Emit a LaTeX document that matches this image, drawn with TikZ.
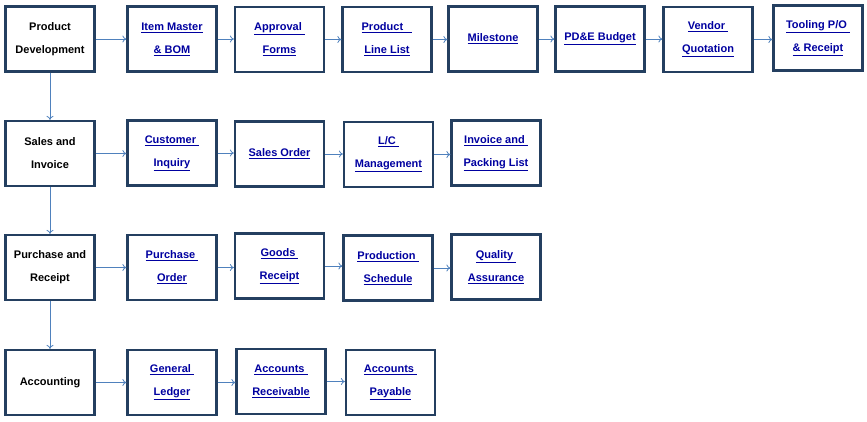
\documentclass[tikz,border=0pt]{standalone}
\usepackage{fontspec}
\setmainfont{Liberation Sans}
\usetikzlibrary{arrows.meta}
\definecolor{frame}{RGB}{36,63,96}
\definecolor{arrowblue}{RGB}{79,129,189}
\definecolor{linkblue}{RGB}{0,0,160}
\newcommand{\lk}[1]{\underline{#1}}
\tikzset{
  box/.style={draw=frame, line width=2.2pt, fill=white, minimum width=89pt, minimum height=65pt,
    inner sep=0pt, align=center, font=\fontsize{11}{23}\selectfont\bfseries},
  head/.style={box, text=black},
  link/.style={box, text=linkblue},
  conn/.style={draw=arrowblue, line width=0.8pt, -{To[length=4pt,width=7pt]}}
}
\begin{document}
\begin{tikzpicture}[x=1pt,y=-1pt]
\useasboundingbox (0,0) rectangle (867,421);
% row 1
\node[head] (pd) at (50,39) {Product\\Development};
\node[link] (im) at (172,39) {\lk{Item Master}\\\lk{\& BOM}};
\node[link] (af) at (279.5,39.5) {\lk{Approval\ }\\\lk{Forms}};
\node[link] (pl) at (387,39.5) {\lk{Product\ \ \ }\\\lk{Line List}};
\node[link] (ms) at (493,39) {\lk{Milestone}};
\node[link] (bu) at (600,39) {\lk{PD\&E Budget}};
\node[link] (vq) at (708,39.5) {\lk{Vendor\ }\\\lk{Quotation}};
\node[link] (tp) at (818,38) {\lk{Tooling P/O\ }\\\lk{\& Receipt}};
% row 2
\node[head] (si) at (50,153.5) {Sales and\\Invoice};
\node[link] (ci) at (172,153) {\lk{Customer\ }\\\lk{Inquiry}};
\node[link] (so) at (279.5,154) {\lk{Sales Order}};
\node[link] (lc) at (388.5,154.5) {\lk{L/C\ }\\\lk{Management}};
\node[link] (ip) at (496,153) {\lk{Invoice and\ }\\\lk{Packing List}};
% row 3
\node[head] (pr) at (50,267.5) {Purchase and\\Receipt};
\node[link] (po) at (172,267.5) {\lk{Purchase\ }\\\lk{Order}};
\node[link] (gr) at (279.5,266) {\lk{Goods\ }\\\lk{Receipt}};
\node[link] (ps) at (388,268) {\lk{Production\ }\\\lk{Schedule}};
\node[link] (qa) at (496,267) {\lk{Quality\ }\\\lk{Assurance}};
% row 4
\node[head] (ac) at (50,382.5) {Accounting};
\node[link] (gl) at (172,382.5) {\lk{General\ }\\\lk{Ledger}};
\node[link] (ar) at (281,381.5) {\lk{Accounts\ }\\\lk{Receivable}};
\node[link] (ap) at (390.5,382.5) {\lk{Accounts\ }\\\lk{Payable}};
% connectors
\foreach \a/\b in {pd/im, im/af, af/pl, pl/ms, ms/bu, bu/vq, vq/tp,
                   si/ci, ci/so, so/lc, lc/ip,
                   pr/po, po/gr, gr/ps, ps/qa,
                   ac/gl, gl/ar, ar/ap}
  \draw[conn] (\a.east) -- (\b.west |- \a.east);
\draw[conn] (pd) -- (si);
\draw[conn] (si) -- (pr);
\draw[conn] (pr) -- (ac);
\end{tikzpicture}
\end{document}
